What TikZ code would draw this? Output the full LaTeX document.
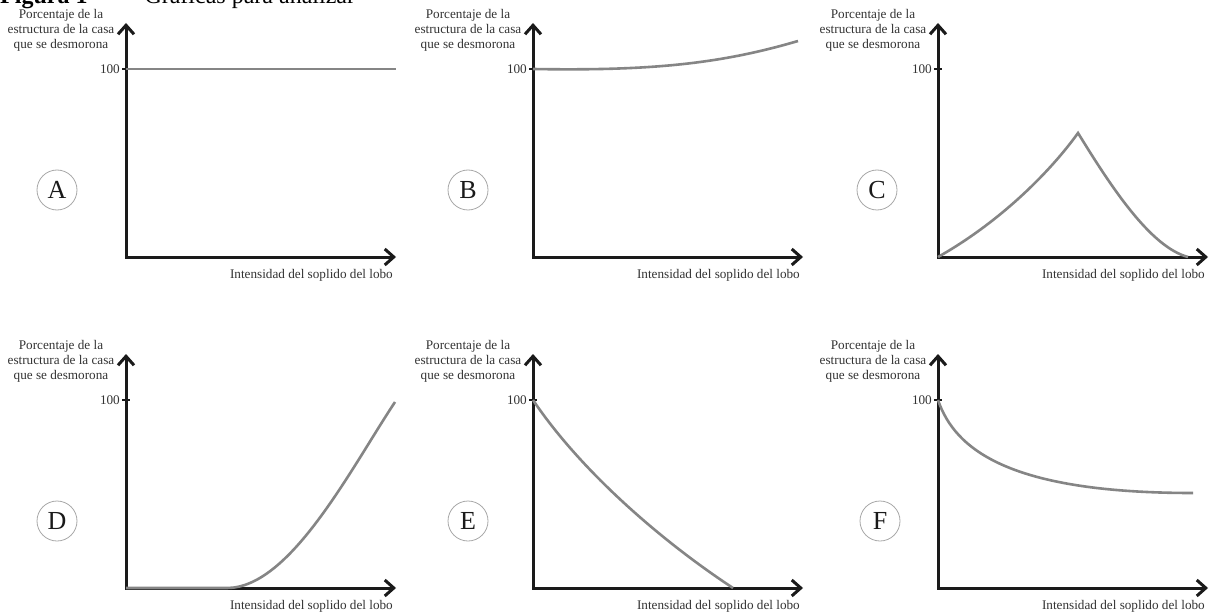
\documentclass[tikz,border=0pt]{standalone}
\usepackage{fontspec}
\setmainfont{Liberation Serif}
\usetikzlibrary{arrows.meta}
\definecolor{axiscol}{HTML}{1A1A1A}
\definecolor{labcol}{HTML}{333333}
\definecolor{curvecol}{HTML}{858585}
\definecolor{circcol}{HTML}{A8A8A8}
\tikzset{
  axisline/.style={line width=3pt, draw=axiscol, line join=miter,
    {Straight Barb[length=9pt,width=16pt]}-{Straight Barb[length=9pt,width=16pt]}},
  tickmark/.style={line width=2pt, draw=axiscol},
  curve/.style={line width=2.6pt, draw=curvecol},
  ylab/.style={align=center, inner sep=0pt, text=labcol, font=\fontsize{13.2}{15}\selectfont},
  xlab/.style={inner sep=0pt, text=labcol, font=\fontsize{13.2}{15}\selectfont},
  hlab/.style={inner sep=0pt, text=labcol, font=\fontsize{13.2}{15}\selectfont},
  circlab/.style={circle, draw=circcol, line width=0.8pt, minimum size=40pt, inner sep=0pt,
    text=axiscol, font=\fontsize{26}{26}\selectfont},
  titlefont/.style={inner sep=0pt, text=black, font=\fontsize{24}{26}\selectfont}
}
\newcommand\graphpanel[4]{%
  \coordinate (#1o) at (#2,#3);
  \coordinate (#1y) at (#2,#3-234);
  \coordinate (#1x) at (#2+270,#3);
  \coordinate (#1t) at (#2,#3-188);
  \draw[axisline] (#1y) -- (#1o) -- (#1x);
  \draw[tickmark] ([xshift=-4pt]#1t) -- ([xshift=4pt]#1t);
  \node[hlab, anchor=east] (#1h) at (#2-6,#3-188) {100};
  \node[ylab] (#1yl) at (#2-65,#3-227) {Porcentaje de la\\estructura de la casa\\que se desmorona};
  \node[xlab, anchor=base east] (#1xl) at (#2+267,#3+21) {Intensidad del soplido del lobo};
  \node[circlab] (#1c) at (#2+#4,#3-67) {#1};
}
\begin{document}
\begin{tikzpicture}[x=1pt,y=-1pt]
\useasboundingbox (0,0) rectangle (1214,612);
\clip (0,0) rectangle (1214,612);
\fill[white] (0,0) rectangle (1214,612);
\node[titlefont, anchor=base west] (title) at (0,3.5) {\textbf{Figura 1}\hspace{15pt}—\hspace{18pt}Gráficas para analizar};
\graphpanel{A}{126}{257}{-69}
\graphpanel{B}{533}{257}{-65}
\graphpanel{C}{938}{257}{-61}
\graphpanel{D}{126}{588}{-69}
\graphpanel{E}{533}{588}{-65}
\graphpanel{F}{938}{588}{-58}
% curves
\coordinate (Aend) at (396,69);
\draw[curve] (At) -- (Aend);
\coordinate (Bend) at (798,41);
\draw[curve] (Bt) .. controls (650,71) and (720,64) .. (Bend);
\coordinate (Cpeak) at (1078,133);
\coordinate (Cend) at (1188,257);
\draw[curve] (Co) .. controls (1000,222) and (1050,172) .. (Cpeak) .. controls (1110,185) and (1150,247) .. (Cend);
\coordinate (Dbend) at (227,588);
\coordinate (Dend) at (395,402);
\draw[curve] (Do) -- (Dbend) .. controls (290,588) and (350,470) .. (Dend);
\coordinate (Eend) at (733,588);
\draw[curve] (Et) .. controls (580,470) and (660,540) .. (Eend);
\coordinate (Fend) at (1193,493);
\draw[curve] (Ft) .. controls (955,450) and (1010,493) .. (Fend);
\end{tikzpicture}
\end{document}
